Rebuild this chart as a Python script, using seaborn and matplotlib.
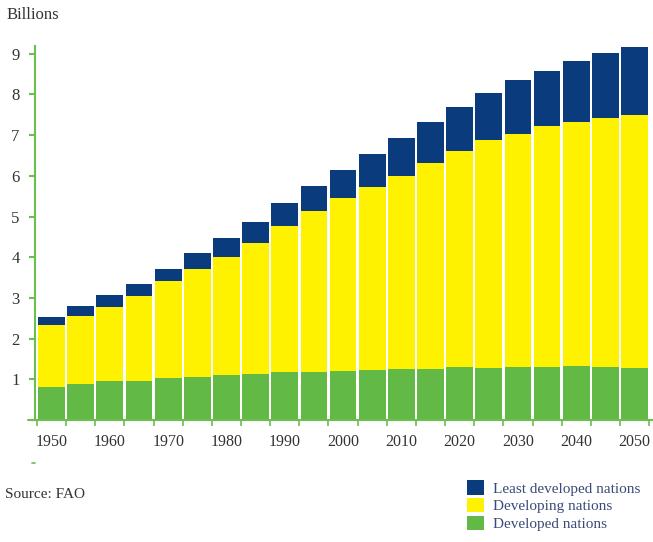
import matplotlib
matplotlib.use("Agg")
import matplotlib.pyplot as plt
from matplotlib.patches import Patch
from matplotlib.lines import Line2D
import seaborn as sns
import pandas as pd
import numpy as np

# population by group, billions
years = [1950, 1955, 1960, 1965, 1970, 1975, 1980, 1985, 1990, 1995, 2000,
         2005, 2010, 2015, 2020, 2025, 2030, 2035, 2040, 2045, 2050]
developed = [0.81, 0.88, 0.96, 0.97, 1.03, 1.05, 1.11, 1.12, 1.18, 1.19, 1.21,
             1.24, 1.26, 1.26, 1.31, 1.28, 1.31, 1.31, 1.32, 1.31, 1.28]
developing = [1.52, 1.67, 1.82, 2.07, 2.38, 2.66, 2.90, 3.24, 3.59, 3.95, 4.25,
              4.48, 4.74, 5.05, 5.31, 5.59, 5.73, 5.91, 6.00, 6.11, 6.21]
least_developed = [0.19, 0.26, 0.28, 0.31, 0.29, 0.40, 0.47, 0.50, 0.55, 0.60, 0.69,
                   0.81, 0.94, 1.01, 1.08, 1.16, 1.31, 1.36, 1.51, 1.59, 1.68]
series_names = ["Least developed nations", "Developing nations", "Developed nations"]

NAVY = "#0a3c7d"
YELLOW = "#fff200"
GREEN = "#63b946"
AXIS_GREEN = "#6cbf4f"
TEXT = "#333333"

df = pd.DataFrame({
    "Year": years,
    "Developed": developed,
    "Developing": developing,
    "Least": least_developed,
})
df["Top2"] = df["Developed"] + df["Developing"]
df["Total"] = df["Top2"] + df["Least"]

sns.set_style("white")
plt.rcParams["font.family"] = ["Liberation Serif", "DejaVu Serif"]

fig = plt.figure(figsize=(6.53, 5.42), dpi=100)
ax = fig.add_axes([35 / 653, 122 / 542, 617 / 653, 374.4 / 542])

# stacked by overdrawing cumulative totals
for col, color in [("Total", NAVY), ("Top2", YELLOW), ("Developed", GREEN)]:
    sns.barplot(data=df, x="Year", y=col, color=color, width=0.92,
                saturation=1, linewidth=0, ax=ax)

ax.set_xlim(-0.57, 20.6)
ax.set_ylim(0, 9.2)
ax.set_xlabel("")
ax.set_ylabel("")

for s in ["top", "right"]:
    ax.spines[s].set_visible(False)
for s in ["left", "bottom"]:
    ax.spines[s].set_color(AXIS_GREEN)
    ax.spines[s].set_linewidth(1.5)

ax.set_yticks(range(0, 10))
ax.set_yticklabels([""] + [str(i) for i in range(1, 10)])
ax.tick_params(axis="y", length=4, width=1.5, color=AXIS_GREEN, pad=7,
               labelsize=12, labelcolor=TEXT, left=True)

ax.set_xticks(range(0, 21, 2))
ax.set_xticklabels([str(y) for y in years[::2]])
ax.set_xticks(np.arange(-0.5, 21, 1), minor=True)
ax.tick_params(axis="x", which="major", length=0, pad=10,
               labelsize=11.5, labelcolor=TEXT)
ax.tick_params(axis="x", which="minor", length=4, width=1.2,
               color=AXIS_GREEN, bottom=True)

# short stub of the base line left of the y axis
fig.add_artist(Line2D([28 / 653, 35 / 653], [122 / 542, 122 / 542],
                      color=AXIS_GREEN, linewidth=1.5))

fig.text(7 / 653, 1 - 15 / 542, "Billions", fontsize=12, color=TEXT,
         ha="left", va="center")
fig.text(5 / 653, 1 - 494 / 542, "Source: FAO", fontsize=11, color=TEXT,
         ha="left", va="center")
fig.add_artist(Line2D([32 / 653, 35 / 653], [1 - 463 / 542, 1 - 463 / 542],
                      color=AXIS_GREEN, linewidth=1.2))

handles = [Patch(facecolor=c, edgecolor="none") for c in [NAVY, YELLOW, GREEN]]
leg = fig.legend(handles, series_names, loc="upper left",
                 bbox_to_anchor=(467 / 653, 1 - 480 / 542), frameon=False,
                 fontsize=11, handlelength=1.1, handleheight=1.1,
                 handletextpad=0.6, labelspacing=0.15, borderpad=0,
                 borderaxespad=0)
for t in leg.get_texts():
    t.set_color("#3b4a78")

fig.savefig("out.png", dpi=100)
